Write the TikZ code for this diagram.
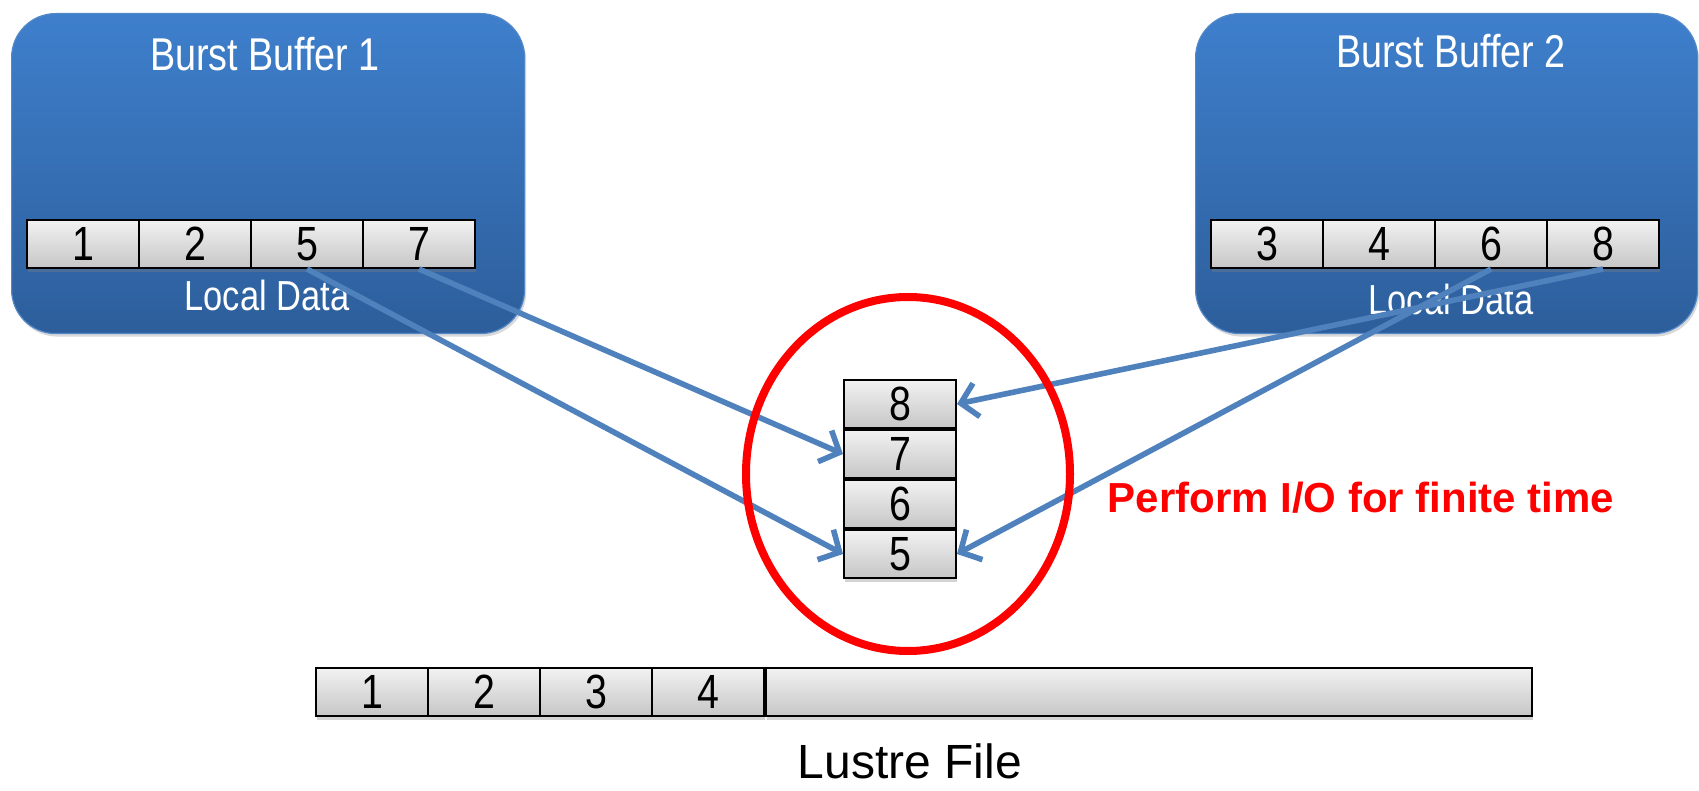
\documentclass[tikz,border=0pt]{standalone}
\usepackage{fontspec}
\setmainfont{Liberation Sans}
\newfontfamily\narrowsans[FakeStretch=0.82]{Liberation Sans}
\usetikzlibrary{positioning,arrows.meta,shapes.geometric,shadows}
\definecolor{bbTop}{RGB}{62,127,204}
\definecolor{bbBot}{RGB}{45,94,155}
\definecolor{bbLine}{RGB}{84,136,200}
\definecolor{flowBlue}{RGB}{79,129,189}
\definecolor{cellTop}{RGB}{242,242,242}
\definecolor{cellBot}{RGB}{198,198,198}
\tikzset{
  buffer/.style={rectangle, rounded corners=22pt, draw=bbLine, line width=0.6pt,
                 top color=bbTop, bottom color=bbBot, minimum height=160pt,
                 anchor=north west,
                 drop shadow={shadow xshift=0.8pt, shadow yshift=-1.5pt, opacity=0.3}},
  bbtitle/.style={text=white, font=\narrowsans\fontsize{23}{26}\selectfont},
  bblabel/.style={text=white, font=\narrowsans\fontsize{21}{24}\selectfont},
  blk/.style={rectangle, draw=black, line width=1pt, top color=cellTop, bottom color=cellBot,
              minimum width=56pt, minimum height=24pt, inner sep=0pt,
              font=\narrowsans\fontsize{24}{24}\selectfont,
              drop shadow={shadow xshift=0.5pt, shadow yshift=-2pt, opacity=0.35}},
  flow/.style={-{Straight Barb[length=8pt, width=17pt]}, draw=flowBlue, line width=2.8pt},
  window/.style={ellipse, draw=red, line width=4pt, minimum width=162pt, minimum height=177pt},
}

\begin{document}
\begin{tikzpicture}[x=0.5pt, y=-0.5pt]
  \useasboundingbox (0,0) rectangle (1699,791);

  % burst buffers
  \node[buffer, minimum width=256.5pt] (bb1) at (11,13) {};
  \node[buffer, minimum width=251pt] (bb2) at (1195,13) {};
  \node[bbtitle] (bb1title) at (265,54) {Burst Buffer 1};
  \node[bbtitle] (bb2title) at (1451,51) {Burst Buffer 2};
  \node[bblabel] (bb1data) at (267,295) {Local Data};
  \node[bblabel] (bb2data) at (1451,299) {Local Data};
  \foreach \v [count=\i] in {1,2,5,7}
    \node[blk] (a\v) at ({27+(\i-1)*112+56},244) {\v};
  \foreach \v [count=\i] in {3,4,6,8}
    \node[blk] (b\v) at ({1211+(\i-1)*112+56},244) {\v};

  % shared write stack
  \node[blk] (s8) at (900,404) {8};
  \node[blk, below=0pt of s8] (s7) {7};
  \node[blk, below=0pt of s7] (s6) {6};
  \node[blk, below=0pt of s6] (s5) {5};

  % lustre file
  \foreach \v in {1,2,3,4}
    \node[blk] (l\v) at ({316+(\v-1)*112+56},692) {\v};
  \node[blk, minimum width=383pt, right=0pt of l4] (lrest) {};
  \node[inner sep=0pt, font=\fontsize{24}{28}\selectfont] (lustre) at (910,761) {Lustre File};

  \draw[flow] (a5.south) -- (s5.west);
  \draw[flow] (a7.south) -- (s7.west);
  \draw[flow] (b8.south) -- (s8.east);
  \draw[flow] (b6.south) -- (s5.east);

  \node[window] (win) at (908,474) {};
  \node[text=red, font=\bfseries\fontsize{21}{24}\selectfont] (note) at (1361,498)
    {Perform I/O for finite time};
\end{tikzpicture}
\end{document}
